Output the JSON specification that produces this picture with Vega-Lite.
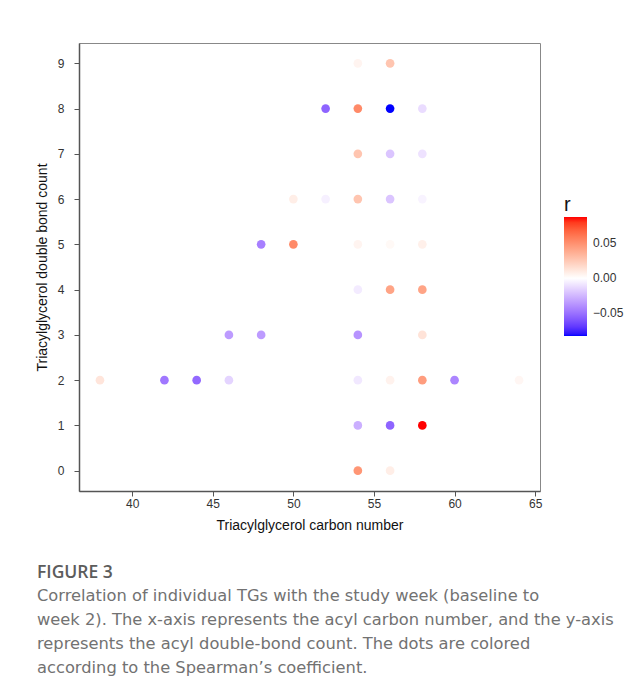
{
  "$schema": "https://vega.github.io/schema/vega-lite/v6.json",
  "width": 461,
  "height": 448,
  "padding": {"left": 35, "top": 43, "right": 5, "bottom": 5},
  "background": "#ffffff",
  "title": {
    "text": "FIGURE 3",
    "subtitle": [
      "Correlation of individual TGs with the study week (baseline to",
      "week 2). The x-axis represents the acyl carbon number, and the y-axis",
      "represents the acyl double-bond count. The dots are colored",
      "according to the Spearman’s coefficient."
    ],
    "orient": "bottom",
    "anchor": "start",
    "frame": "group",
    "dx": -42,
    "offset": 32,
    "font": "Open Sans",
    "fontSize": 17.5,
    "fontWeight": 600,
    "color": "#5c5c5c",
    "subtitleFont": "DejaVu Sans",
    "subtitleFontSize": 16.3,
    "subtitleFontWeight": "normal",
    "subtitleColor": "#727272",
    "subtitleLineHeight": 24,
    "subtitlePadding": 6
  },
  "data": {
    "values": [
      {"c": 54, "db": 9, "r": 0.005},
      {"c": 56, "db": 9, "r": 0.027},
      {"c": 52, "db": 8, "r": -0.055},
      {"c": 54, "db": 8, "r": 0.053},
      {"c": 56, "db": 8, "r": -0.083},
      {"c": 58, "db": 8, "r": -0.012},
      {"c": 54, "db": 7, "r": 0.027},
      {"c": 56, "db": 7, "r": -0.02},
      {"c": 58, "db": 7, "r": -0.01},
      {"c": 50, "db": 6, "r": 0.008},
      {"c": 52, "db": 6, "r": -0.005},
      {"c": 54, "db": 6, "r": 0.027},
      {"c": 56, "db": 6, "r": -0.02},
      {"c": 58, "db": 6, "r": -0.004},
      {"c": 48, "db": 5, "r": -0.045},
      {"c": 50, "db": 5, "r": 0.053},
      {"c": 54, "db": 5, "r": 0.005},
      {"c": 56, "db": 5, "r": 0.003},
      {"c": 58, "db": 5, "r": 0.007},
      {"c": 48, "db": 4, "r": 0.0},
      {"c": 54, "db": 4, "r": -0.007},
      {"c": 56, "db": 4, "r": 0.042},
      {"c": 58, "db": 4, "r": 0.042},
      {"c": 46, "db": 3, "r": -0.035},
      {"c": 48, "db": 3, "r": -0.035},
      {"c": 54, "db": 3, "r": -0.038},
      {"c": 56, "db": 3, "r": 0.0},
      {"c": 58, "db": 3, "r": 0.013},
      {"c": 38, "db": 2, "r": 0.012},
      {"c": 42, "db": 2, "r": -0.048},
      {"c": 44, "db": 2, "r": -0.053},
      {"c": 46, "db": 2, "r": -0.015},
      {"c": 54, "db": 2, "r": -0.008},
      {"c": 56, "db": 2, "r": 0.006},
      {"c": 58, "db": 2, "r": 0.045},
      {"c": 60, "db": 2, "r": -0.043},
      {"c": 64, "db": 2, "r": 0.004},
      {"c": 54, "db": 1, "r": -0.028},
      {"c": 56, "db": 1, "r": -0.055},
      {"c": 58, "db": 1, "r": 0.088},
      {"c": 54, "db": 0, "r": 0.048},
      {"c": 56, "db": 0, "r": 0.008}
    ]
  },
  "mark": {"type": "circle", "size": 75, "opacity": 1},
  "encoding": {
    "x": {
      "field": "c",
      "type": "quantitative",
      "title": "Triacylglycerol carbon number",
      "scale": {"domain": [36.7, 65.3], "nice": false, "zero": false},
      "axis": {"values": [40, 45, 50, 55, 60, 65], "titlePadding": 9}
    },
    "y": {
      "field": "db",
      "type": "quantitative",
      "title": "Triacylglycerol double bond count",
      "scale": {"domain": [-0.45, 9.45], "nice": false, "zero": false},
      "axis": {"values": [0, 1, 2, 3, 4, 5, 6, 7, 8, 9], "labelPadding": 10, "titlePadding": 8}
    },
    "color": {
      "field": "r",
      "type": "quantitative",
      "title": "r",
      "scale": {
        "domain": [-0.083, 0, 0.088],
        "range": ["#0000ff", "#ffffff", "#ff0000"],
        "interpolate": "lab"
      },
      "legend": {
        "orient": "none",
        "legendX": 485,
        "legendY": 152,
        "direction": "vertical",
        "values": [-0.05, 0, 0.05],
        "format": ".2f",
        "gradientLength": 119,
        "gradientThickness": 23,
        "gradientStrokeWidth": 0,
        "titleFontSize": 20,
        "titleFontWeight": "normal",
        "titleFont": "Liberation Sans",
        "titleColor": "#111111",
        "titlePadding": 2,
        "titleAnchor": "start",
        "labelFont": "Liberation Sans",
        "labelFontSize": 12,
        "labelColor": "#333333",
        "labelOffset": 6
      }
    }
  },
  "config": {
    "view": {"stroke": "#888888", "strokeWidth": 1},
    "axis": {
      "grid": false,
      "domainColor": "#555555",
      "domainWidth": 1.5,
      "tickColor": "#555555",
      "tickSize": 5,
      "labelFont": "Liberation Sans",
      "labelFontSize": 12,
      "labelColor": "#333333",
      "titleFont": "Liberation Sans",
      "titleFontSize": 14,
      "titleFontWeight": "normal",
      "titleColor": "#111111"
    }
  }
}
